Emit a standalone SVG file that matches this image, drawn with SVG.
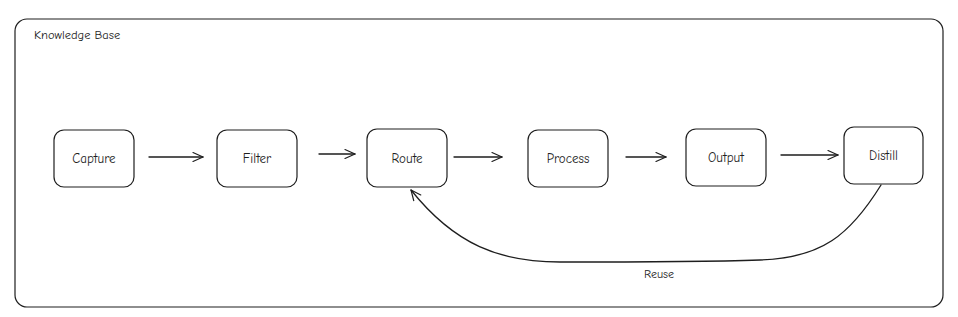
<svg xmlns="http://www.w3.org/2000/svg" width="958" height="317" viewBox="0 0 958 317">
<defs>
<marker id="ah" viewBox="0 0 12 12" refX="11" refY="6" markerWidth="12" markerHeight="12" markerUnits="userSpaceOnUse" orient="auto">
<path d="M1 1.5 L11 6 L1 10.5" fill="none" stroke="#1e1e1e" stroke-width="1.2" stroke-linecap="round" stroke-linejoin="round"/>
</marker>
<style>
.box{fill:#fff;stroke:#1e1e1e;stroke-width:1.2}
.lbl{font-family:"Comic Neue","Liberation Sans",sans-serif;font-size:13px;fill:#1e1e1e;text-anchor:middle;dominant-baseline:central}
.edge{fill:none;stroke:#1e1e1e;stroke-width:1.3;stroke-linecap:round;marker-end:url(#ah)}
</style>
</defs>
<rect width="958" height="317" fill="#fff"/>
<g id="container">
<rect x="15" y="19" width="928" height="288" rx="12" fill="none" stroke="#1e1e1e" stroke-width="1.2"/>
<text x="34" y="35" style="font-family:'Comic Neue','Liberation Sans',sans-serif;font-size:12.5px;fill:#1e1e1e" dominant-baseline="central">Knowledge Base</text>
</g>
<g id="capture"><rect class="box" x="54" y="130" width="80" height="57" rx="10"/><text class="lbl" x="94" y="158.5">Capture</text></g>
<g id="filter"><rect class="box" x="217" y="130" width="80" height="57" rx="10"/><text class="lbl" x="257" y="158.5">Filter</text></g>
<g id="route"><rect class="box" x="367" y="129" width="80" height="58" rx="10"/><text class="lbl" x="407" y="158">Route</text></g>
<g id="process"><rect class="box" x="528" y="130" width="80" height="57" rx="10"/><text class="lbl" x="568" y="158.5">Process</text></g>
<g id="output"><rect class="box" x="686" y="129" width="80" height="57" rx="10"/><text class="lbl" x="726" y="157.5">Output</text></g>
<g id="distill"><rect class="box" x="844" y="127" width="79" height="57" rx="10"/><text class="lbl" x="883.5" y="155">Distill</text></g>
<g id="connectors">
<path class="edge" d="M149 157 L203 157"/>
<path class="edge" d="M319 154 L355 154"/>
<path class="edge" d="M454 157 L502 157"/>
<path class="edge" d="M626 157 L666 157"/>
<path class="edge" d="M781 155 L838 155"/>
<path class="edge" d="M881 185 C850 235, 822 258, 760 260 C700 262, 620 262, 560 262 C500 262, 455 245, 411 190"/>
<text class="lbl" x="659" y="274" style="font-size:12px">Reuse</text>
</g>
</svg>
